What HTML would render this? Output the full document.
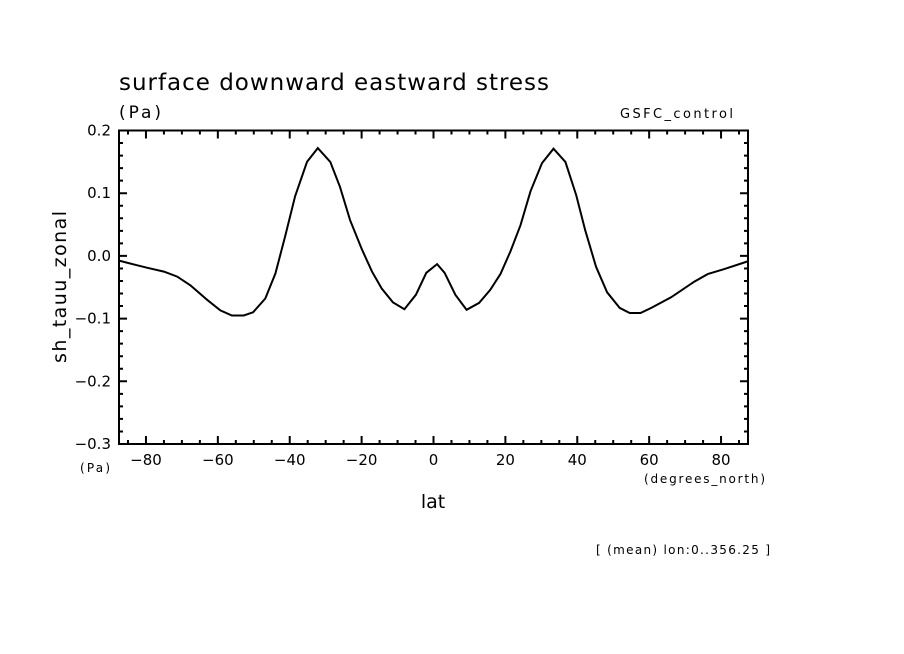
<!DOCTYPE html>
<html><head><meta charset="utf-8"><style>
body{margin:0;background:#fff}
svg{display:block;font-family:"DejaVu Sans","Liberation Sans",sans-serif}
</style></head><body>
<svg width="904" height="654" viewBox="0 0 904 654">
<rect width="904" height="654" fill="#fff"/>
<text x="119" y="90" font-size="23" textLength="430" lengthAdjust="spacing">surface downward eastward stress</text>
<text x="119" y="118" font-size="17" textLength="42" lengthAdjust="spacing">(Pa)</text>
<text x="620" y="118" font-size="13" textLength="113" lengthAdjust="spacing">GSFC_control</text>
<text transform="translate(66,287) rotate(-90)" font-size="19" text-anchor="middle" textLength="152" lengthAdjust="spacing">sh_tauu_zonal</text>
<text x="80" y="472" font-size="12" textLength="30" lengthAdjust="spacing">(Pa)</text>
<text x="644" y="483" font-size="12" textLength="121" lengthAdjust="spacing">(degrees_north)</text>
<text x="433" y="508" font-size="19" text-anchor="middle">lat</text>
<text x="596" y="554" font-size="12" textLength="174" lengthAdjust="spacing">[ (mean) lon:0..356.25 ]</text>
<g id="axes"></g>
<path id="line" fill="none" stroke="#000" stroke-width="2" stroke-linejoin="miter"/>
</svg>
<script>
const lats=[-87.5,-83.1,-79.6,-75,-71.3,-67.6,-63,-59.3,-56.1,-52.8,-50.2,-46.8,-44,-41.3,-38.5,-35.2,-32.2,-28.7,-26,-23.2,-19.9,-17.1,-14.4,-11.3,-8.1,-4.9,-2,1,3.1,6.1,9.2,12.7,15.8,18.6,21.4,24.2,27,30.2,33.4,36.7,39.7,42.2,45.2,48.3,51.8,54.6,57.6,60.6,66.1,72.6,76.3,80.9,87.3];
const vals=[-0.0075,-0.014,-0.019,-0.025,-0.033,-0.047,-0.070,-0.087,-0.095,-0.095,-0.090,-0.068,-0.028,0.031,0.095,0.150,0.172,0.150,0.110,0.057,0.010,-0.025,-0.052,-0.074,-0.085,-0.062,-0.027,-0.013,-0.027,-0.062,-0.086,-0.075,-0.054,-0.029,0.007,0.049,0.103,0.148,0.171,0.150,0.097,0.041,-0.017,-0.058,-0.083,-0.091,-0.091,-0.083,-0.066,-0.041,-0.029,-0.021,-0.009];
const xTicks=[-80,-60,-40,-20,0,20,40,60,80];
const yTicks=[0.2,0.1,0.0,-0.1,-0.2,-0.3];
const yTickLabels=["0.2","0.1","0.0","\u22120.1","\u22120.2","\u22120.3"];
const X0=-87.5,X1=87.5,Y0=-0.3,Y1=0.2;
const L=119,R=748,T=130.5,B=444;
const sx=v=>L+(v-X0)/(X1-X0)*(R-L);
const sy=v=>B-(v-Y0)/(Y1-Y0)*(B-T);
const NS='http://www.w3.org/2000/svg';
const g=document.getElementById('axes');
function mk(tag,attrs){const e=document.createElementNS(NS,tag);for(const k in attrs)e.setAttribute(k,attrs[k]);g.appendChild(e);return e;}
const frame=mk('rect',{x:L,y:T,width:R-L,height:B-T,fill:'none',stroke:'#000','stroke-width':2});


let d='';
for(let v=-85;v<=85;v+=5){const x=sx(v);const len=(v%20===0)?8:4;d+=`M${x},${B}v${-len}M${x},${T}v${len}`;}
for(let i=0;i<=25;i++){const v=Y0+i*0.02;const y=sy(v);const len=(i%5===0)?8:4;d+=`M${L},${y}h${len}M${R},${y}h${-len}`;}
const tk=mk('path',{d:d,stroke:'#000','stroke-width':2,fill:'none'});


xTicks.forEach(v=>{const t=mk('text',{x:sx(v),y:B+21,'font-size':15,'text-anchor':'middle'});t.textContent=v<0?'\u2212'+(-v):String(v);

});
yTicks.forEach((v,i)=>{const t=mk('text',{x:L-8,y:sy(v)+5,'font-size':15,'text-anchor':'end'});t.textContent=yTickLabels[i];

});
document.getElementById('line').setAttribute('d',lats.map((la,i)=>(i?'L':'M')+sx(la).toFixed(1)+','+sy(vals[i]).toFixed(1)).join(''));
</script>
</body></html>
